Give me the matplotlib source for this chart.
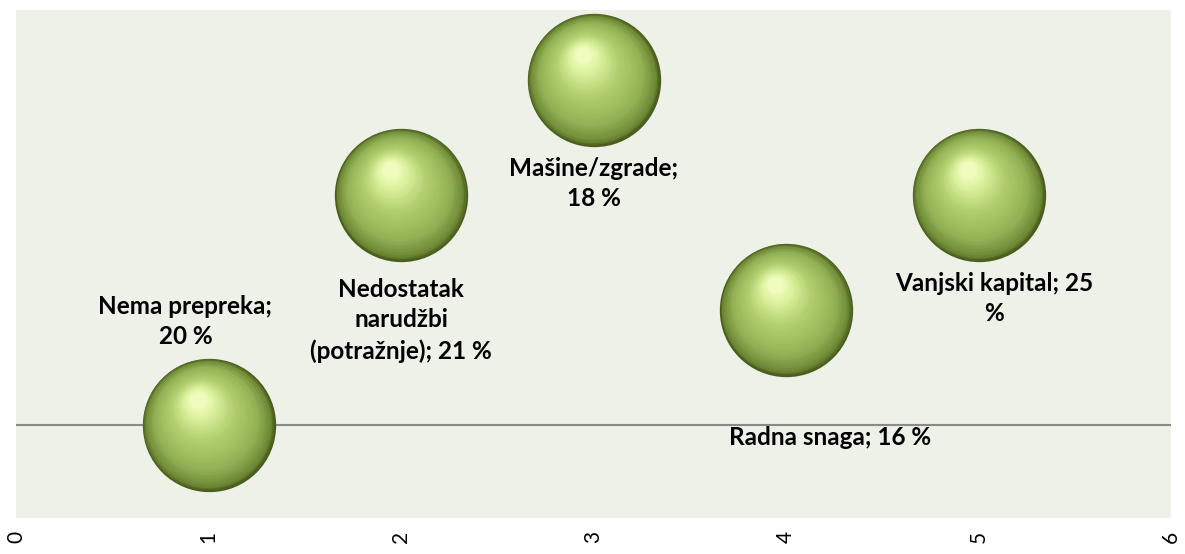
import numpy as np
import matplotlib.pyplot as plt
from matplotlib.transforms import offset_copy
from matplotlib.colors import LinearSegmentedColormap

# data
categories = ["Nema prepreka", "Nedostatak\nnarudžbi\n(potražnje)", "Mašine/zgrade",
              "Radna snaga", "Vanjski kapital"]
x_vals = [1, 2, 3, 4, 5]
y_vals = [0, 2, 3, 1, 2]
shares = [20, 21, 18, 16, 25]
label_text = ["Nema prepreka;\n20 %", "Nedostatak\nnarudžbi\n(potražnje); 21 %",
              "Mašine/zgrade;\n18 %", "Radna snaga; 16 %", "Vanjski kapital; 25\n%"]
label_pos = [(0.88, 0.90), (2.0, 0.91), (3.0, 2.10), (4.23, -0.11), (5.08, 1.10)]

fig = plt.figure(figsize=(11.85, 5.54), dpi=100)
ax = fig.add_axes([16 / 1185, 36 / 554, (1171 - 16) / 1185, 508 / 554])
ax.set_facecolor("#eef1e8")

ax.axhline(0, color="#8a8a8a", lw=1.5, zorder=1)

# shaded "sphere" bubbles: stacked circles shifted toward the highlight
diam = 96.0  # points
shade = LinearSegmentedColormap.from_list(
    "sphere", [(0.0, "#4a5e1e"), (0.06, "#6f8a36"), (0.25, "#93b155"),
               (0.6, "#b3cf70"), (0.88, "#def3a0"), (1.0, "#effcbe")])
n_layers = 40
for k in range(n_layers):
    t = k / (n_layers - 1)
    r = 1.0 - 0.88 * t
    dx = -0.16 * diam / 2 * t
    dy = 0.38 * diam / 2 * t
    tr = offset_copy(ax.transData, fig=fig, x=dx, y=dy, units="points")
    ax.scatter(x_vals, y_vals, s=(diam * r) ** 2, color=shade(t),
               transform=tr, linewidths=0, zorder=2 + k * 0.01)

for txt, (lx, ly) in zip(label_text, label_pos):
    ax.text(lx, ly, txt, ha="center", va="center", fontsize=17.5,
            fontweight="bold", family="Lato", linespacing=1.4, zorder=5)

ax.set_xlim(0, 6)
ax.set_ylim(-0.81, 3.61)
ax.set_xticks(range(7))
ax.set_xticklabels([str(i) for i in range(7)], rotation=90, fontsize=15,
                   family="Lato")
ax.tick_params(axis="x", length=0, pad=9)
ax.set_yticks([])
for s in ax.spines.values():
    s.set_visible(False)

fig.savefig("out.png", dpi=100, facecolor="white")
